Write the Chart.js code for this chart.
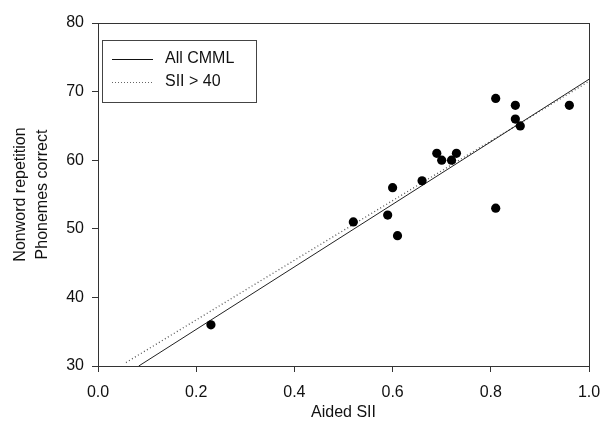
<!DOCTYPE html>
<html>
<head>
<meta charset="utf-8">
<script src="https://cdn.jsdelivr.net/npm/chart.js@4"></script>
<style>
  html, body { margin: 0; padding: 0; background: #fff; }
  #wrap { width: 601px; height: 434px; }
</style>
</head>
<body>
<div id="wrap"><canvas id="grafico"></canvas></div>
<script>
/* ======= Dados ======= */
const aidedSII = [0.23, 0.52, 0.59, 0.60, 0.61, 0.66, 0.69, 0.70, 0.72, 0.73, 0.81, 0.81, 0.85, 0.85, 0.86, 0.96];
const fonemas  = [36,   51,   52,   56,   49,   57,   61,   60,   60,   61,   69,   53,   68,   66,   65,   68];

// retas de regressão (extremos)
const retaTodosX = [0.083, 1.0];
const retaTodosY = [30, 71.8];
const retaSIIX = [0.057, 1.0];
const retaSIIY = [30.5, 71.5];

const xTicks = [0, 0.2, 0.4, 0.6, 0.8, 1.0];
const yTicks = [30, 40, 50, 60, 70, 80];
const legendaTextos = ['All CMML', 'SII > 40'];

const FONTE = "'Liberation Sans', Arial, sans-serif";
const COR = '#111';

function pares(xs, ys) {
  return xs.map((x, i) => ({ x, y: ys[i] }));
}

/* ======= Moldura e legenda ======= */
const molduraPlugin = {
  id: 'moldura',
  afterDatasetsDraw(chart) {
    const { ctx, chartArea: a } = chart;
    ctx.save();
    ctx.strokeStyle = '#333';
    ctx.lineWidth = 1;
    ctx.strokeRect(a.left + 0.5, a.top + 0.5, a.right - a.left, a.bottom - a.top);

    // legenda
    const bx = 102.5, by = 40.5, bw = 154, bh = 62;
    ctx.strokeStyle = '#444';
    ctx.strokeRect(bx, by, bw, bh);
    ctx.font = '16px ' + FONTE;
    ctx.fillStyle = COR;
    ctx.textBaseline = 'middle';
    const linhas = [59, 82];
    linhas.forEach((y, i) => {
      ctx.beginPath();
      ctx.strokeStyle = i === 0 ? '#111' : '#666';
      ctx.setLineDash(i === 0 ? [] : [1, 2]);
      ctx.moveTo(112, y + 0.5);
      ctx.lineTo(153, y + 0.5);
      ctx.stroke();
      ctx.setLineDash([]);
      ctx.fillText(legendaTextos[i], 165, y);
    });
    ctx.restore();
  }
};

/* ======= Gráfico ======= */
new Chart(document.getElementById('grafico'), {
  type: 'scatter',
  data: {
    datasets: [
      {
        label: 'pontos',
        data: pares(aidedSII, fonemas),
        backgroundColor: '#000',
        borderColor: '#000',
        borderWidth: 0,
        pointRadius: 4.6,
        pointHoverRadius: 4.6
      },
      {
        type: 'line',
        label: legendaTextos[0],
        data: pares(retaTodosX, retaTodosY),
        borderColor: '#222',
        borderWidth: 1,
        pointRadius: 0,
        fill: false
      },
      {
        type: 'line',
        label: legendaTextos[1],
        data: pares(retaSIIX, retaSIIY),
        borderColor: '#555',
        borderWidth: 1.3,
        borderDash: [1, 2.5],
        pointRadius: 0,
        fill: false
      }
    ]
  },
  options: {
    responsive: true,
    maintainAspectRatio: false,
    animation: false,
    layout: { padding: { top: 23, right: 12, left: 0, bottom: 0 } },
    plugins: {
      legend: { display: false },
      tooltip: { enabled: false }
    },
    scales: {
      x: {
        type: 'linear',
        min: 0,
        max: 1,
        afterBuildTicks: s => { s.ticks = xTicks.map(v => ({ value: v })); },
        afterFit: s => { s.height = 434 - 366; s.paddingLeft = 0; s.paddingRight = 0; },
        grid: { display: true, drawOnChartArea: false, drawTicks: true, tickLength: 6, color: '#333' },
        border: { display: true, color: '#333' },
        ticks: {
          color: COR,
          font: { family: FONTE, size: 16 },
          padding: 11,
          maxRotation: 0,
          callback: v => Number(v).toFixed(1)
        },
        title: {
          display: true,
          text: 'Aided SII',
          color: COR,
          font: { family: FONTE, size: 16 },
          padding: { top: 0, bottom: 12 }
        }
      },
      y: {
        type: 'linear',
        min: 30,
        max: 80,
        afterBuildTicks: s => { s.ticks = yTicks.map(v => ({ value: v })); },
        afterFit: s => { s.width = 98; s.paddingTop = 0; s.paddingBottom = 0; },
        grid: { display: true, drawOnChartArea: false, drawTicks: true, tickLength: 6, color: '#333' },
        border: { display: true, color: '#333' },
        ticks: {
          color: COR,
          font: { family: FONTE, size: 16 },
          padding: 8
        },
        title: {
          display: true,
          text: ['Nonword repetition', 'Phonemes correct'],
          color: COR,
          font: { family: FONTE, size: 16, lineHeight: 1.4 },
          padding: { top: 9, bottom: 0 }
        }
      }
    }
  },
  plugins: [molduraPlugin]
});
</script>
</body>
</html>
